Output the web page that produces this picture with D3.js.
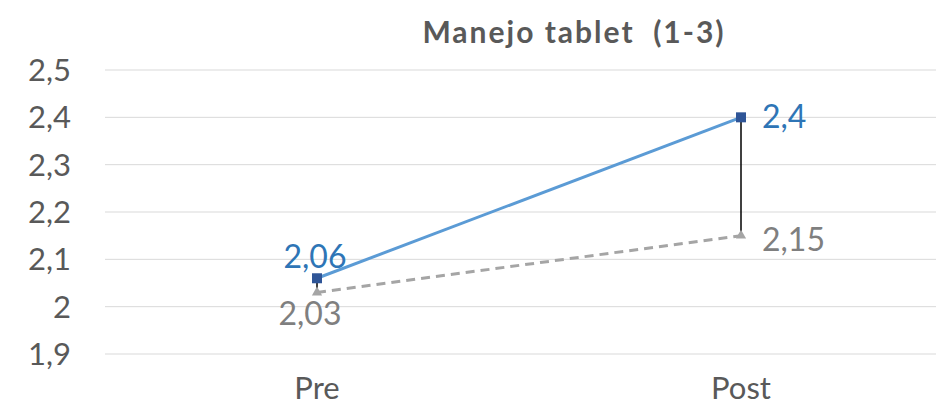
<!DOCTYPE html>
<html><head><meta charset="utf-8">
<script src="https://cdn.jsdelivr.net/npm/d3@7"></script>
<style>body{margin:0;background:#fff;} svg{display:block;}</style>
</head><body>
<svg id="c" width="936" height="407"></svg>
<script>
const categories = ["Pre", "Post"];
const seriesA = [2.06, 2.4];   // blue
const seriesB = [2.03, 2.15];  // grey dashed
const labelsA = ["2,06", "2,4"];
const labelsB = ["2,03", "2,15"];
const yTicks = [1.9, 2.0, 2.1, 2.2, 2.3, 2.4, 2.5];
const yTickLabels = ["1,9", "2", "2,1", "2,2", "2,3", "2,4", "2,5"];
const title = "Manejo tablet  (1-3)";

const svg = d3.select("#c");
const font = "Lato, sans-serif";
const x = d3.scaleBand().domain(categories).range([105, 953]);
const y = d3.scaleLinear().domain([1.9, 2.5]).range([354, 70]);
const cx = c => x(c) + x.bandwidth() / 2;

// grid
svg.append("g").selectAll("line").data(yTicks).join("line")
  .attr("x1", 105).attr("x2", 936)
  .attr("y1", d => y(d)).attr("y2", d => y(d))
  .attr("stroke", "#d9d9d9").attr("stroke-width", 1);

// y labels
svg.append("g").selectAll("text").data(yTicks).join("text")
  .attr("x", 71).attr("y", d => y(d)).attr("dy", "0.36em")
  .attr("text-anchor", "end").attr("font-family", font).attr("font-size", 31)
  .attr("fill", "#595959").text((d, i) => yTickLabels[i]);

// x labels
svg.append("g").selectAll("text").data(categories).join("text")
  .attr("x", d => cx(d)).attr("y", 399)
  .attr("text-anchor", "middle").attr("font-family", font).attr("font-size", 31)
  .attr("fill", "#595959").text(d => d);

// title
svg.append("text").attr("x", 574).attr("y", 43).attr("text-anchor", "middle")
  .attr("font-family", font).attr("font-size", 30).attr("font-weight", "bold")
  .attr("letter-spacing", 2)
  .attr("fill", "#595959").attr("xml:space", "preserve").style("white-space", "pre").text(title);

// high-low lines
svg.append("g").selectAll("line").data(categories).join("line")
  .attr("x1", d => cx(d)).attr("x2", d => cx(d))
  .attr("y1", (d, i) => y(seriesA[i])).attr("y2", (d, i) => y(seriesB[i]))
  .attr("stroke", "#000").attr("stroke-width", 1.5);

const line = d3.line().x((d, i) => cx(categories[i])).y(d => y(d));
svg.append("path").datum(seriesB).attr("d", line).attr("fill", "none")
  .attr("stroke", "#a5a5a5").attr("stroke-width", 3).attr("stroke-dasharray", "9,6");
svg.append("path").datum(seriesA).attr("d", line).attr("fill", "none")
  .attr("stroke", "#5b9bd5").attr("stroke-width", 3);

// markers
svg.append("g").selectAll("path").data(seriesB).join("path")
  .attr("transform", (d, i) => `translate(${cx(categories[i])},${y(d)})`)
  .attr("d", d3.symbol(d3.symbolTriangle, 45)).attr("fill", "#a5a5a5");
svg.append("g").selectAll("rect").data(seriesA).join("rect")
  .attr("x", (d, i) => cx(categories[i]) - 5).attr("y", d => y(d) - 5)
  .attr("width", 10).attr("height", 10).attr("fill", "#2f5597");

// data labels
const pos = [{dxA: -2, dyA: -10, ancA: "middle", dxB: -7, dyB: 33, ancB: "middle"},
             {dxA: 21, dyA: 11, ancA: "start", dxB: 21, dyB: 15, ancB: "start"}];
svg.append("g").selectAll("text").data(seriesA).join("text")
  .attr("x", (d, i) => cx(categories[i]) + pos[i].dxA).attr("y", (d, i) => y(d) + pos[i].dyA)
  .attr("text-anchor", (d, i) => pos[i].ancA).attr("font-family", font).attr("font-size", 32)
  .attr("fill", "#2e75b6").text((d, i) => labelsA[i]);
svg.append("g").selectAll("text").data(seriesB).join("text")
  .attr("x", (d, i) => cx(categories[i]) + pos[i].dxB).attr("y", (d, i) => y(d) + pos[i].dyB)
  .attr("text-anchor", (d, i) => pos[i].ancB).attr("font-family", font).attr("font-size", 32)
  .attr("fill", "#7f7f7f").text((d, i) => labelsB[i]);
</script>
</body></html>
